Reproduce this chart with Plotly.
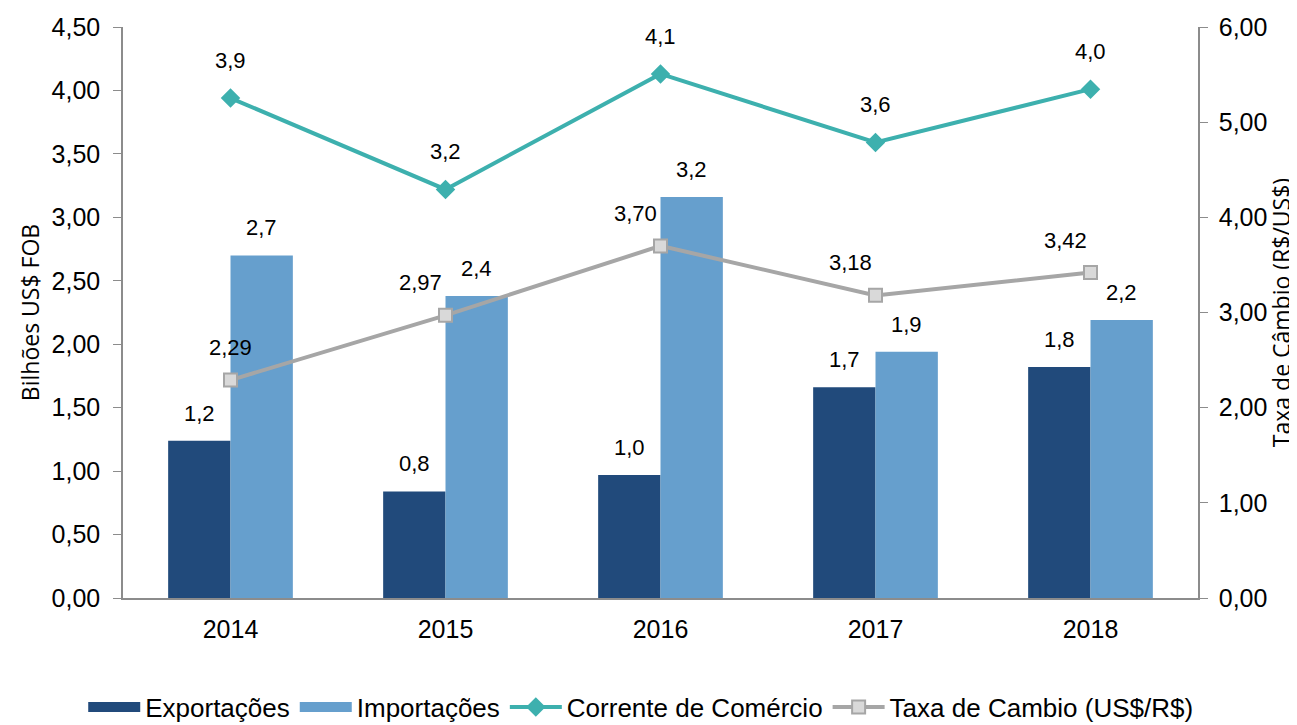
import plotly.graph_objects as go

years = ["2014", "2015", "2016", "2017", "2018"]
exportacoes = [1.24, 0.84, 0.97, 1.66, 1.82]
importacoes = [2.70, 2.38, 3.16, 1.94, 2.19]
corrente = [3.94, 3.22, 4.13, 3.59, 4.01]
taxa = [2.29, 2.97, 3.70, 3.18, 3.42]

def fmt(v, d):
    return f"{v:.{d}f}".replace(".", ",")

C_EXP = "#214A7B"
C_IMP = "#669FCD"
C_COR = "#3DB0AE"
C_TAX = "#A6A6A6"

fig = go.Figure()
fig.add_trace(go.Bar(name="Exportações", x=years, y=exportacoes, marker_color=C_EXP, marker_line_width=0,
                     showlegend=False))
fig.add_trace(go.Bar(name="Importações", x=years, y=importacoes, marker_color=C_IMP, marker_line_width=0,
                     showlegend=False))
# legend entries for the bars drawn as wide swatches
fig.add_trace(go.Scatter(name="Exportações", x=[None], y=[None], mode="lines",
                         line=dict(color=C_EXP, width=12)))
fig.add_trace(go.Scatter(name="Importações", x=[None], y=[None], mode="lines",
                         line=dict(color=C_IMP, width=12)))
fig.add_trace(go.Scatter(name="Corrente de Comércio", x=years, y=corrente, mode="lines+markers",
                         line=dict(color=C_COR, width=4),
                         marker=dict(symbol="diamond", size=15, color=C_COR)))
fig.add_trace(go.Scatter(name="Taxa de Cambio (US$/R$)", x=years, y=taxa, mode="lines+markers", yaxis="y2",
                         line=dict(color=C_TAX, width=4),
                         marker=dict(symbol="square", size=13, color="#D9D9D9", line=dict(color=C_TAX, width=2))))

lab_font = dict(family="Liberation Sans, Arial", size=22, color="#000000")
ann = []
for i, y in enumerate(years):
    ann.append(dict(x=i, y=exportacoes[i], text=fmt(exportacoes[i], 1), xref="x", yref="y", showarrow=False,
                    xshift=-31, yshift=13, yanchor="bottom", font=lab_font))
    ann.append(dict(x=i, y=importacoes[i], text=fmt(importacoes[i], 1), xref="x", yref="y", showarrow=False,
                    xshift=31, yshift=13, yanchor="bottom", font=lab_font))
    ann.append(dict(x=i, y=corrente[i], text=fmt(corrente[i], 1), xref="x", yref="y", showarrow=False,
                    xshift=0, yshift=23, yanchor="bottom", font=lab_font))
    ann.append(dict(x=i, y=taxa[i], text=fmt(taxa[i], 2), xref="x", yref="y2", showarrow=False,
                    xshift=0 if i == 0 else -25, yshift=18, yanchor="bottom", font=lab_font))

fig.update_layout(
    width=1289, height=717,
    margin=dict(l=115, r=99, t=19, b=127, autoexpand=False),
    plot_bgcolor="white", paper_bgcolor="white",
    separators=",.",
    barmode="group", bargap=0.42, bargroupgap=0,
    font=dict(family="Liberation Sans, Arial", size=22, color="#000000"),
    annotations=ann,
    legend=dict(orientation="h", x=-0.037, xanchor="left", y=-0.150, yanchor="top",
                font=dict(family="Liberation Sans, Arial", size=26),
                itemwidth=52, tracegroupgap=0),
    xaxis=dict(type="category", range=[-0.5, 4.5], showline=True, linecolor="#8C8C8C", linewidth=1.5,
               ticks="", tickfont=dict(size=25), showgrid=False, automargin=False, ticklabelstandoff=8),
    yaxis=dict(range=[0, 4.5], dtick=0.5, tickformat=".2f", showgrid=False, zeroline=False,
               showline=True, linecolor="#8C8C8C", linewidth=1.5, ticks="outside", ticklen=8,
               tickcolor="#8C8C8C", tickfont=dict(size=25), automargin=False, ticklabelstandoff=8,
               title=dict(text="Bilhões US$ FOB", font=dict(family="Open Sans", size=23), standoff=6)),
    yaxis2=dict(range=[0, 6], dtick=1, tickformat=".2f", overlaying="y", side="right", showgrid=False,
                zeroline=False, showline=True, linecolor="#8C8C8C", linewidth=1.5, ticks="outside",
                ticklen=8, tickcolor="#8C8C8C", tickfont=dict(size=25), automargin=False, ticklabelstandoff=6,
                title=dict(text="Taxa de Câmbio (R$/US$)", font=dict(family="Open Sans", size=23), standoff=3)),
)

fig.write_html("out.html")
